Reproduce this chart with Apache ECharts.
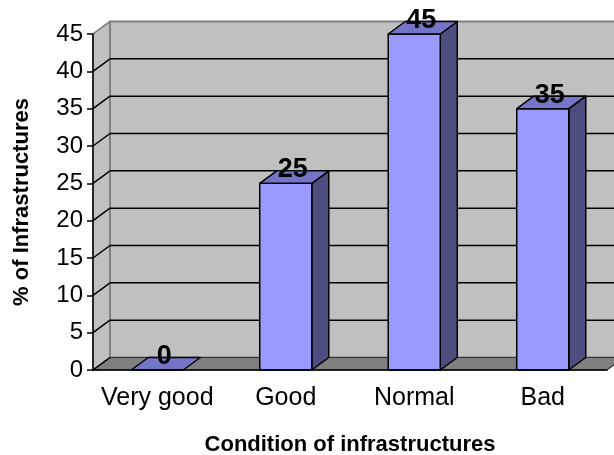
<!DOCTYPE html>
<html>
<head>
<meta charset="utf-8">
<script src="https://cdn.jsdelivr.net/npm/echarts@6/dist/echarts.min.js"></script>
<style>
  html, body { margin: 0; padding: 0; background: #ffffff; }
  #chart { width: 614px; height: 455px; }
</style>
</head>
<body>
<div id="chart"></div>
<script>
// Condition categories and share of infrastructures (%)
const categories = ['Very good', 'Good', 'Normal', 'Bad'];
const percentages = [0, 25, 45, 35];
const yTicks = [0, 5, 10, 15, 20, 25, 30, 35, 40, 45];

const FONT = '"Liberation Sans", Arial, sans-serif';
// pseudo-3D depth offset (pixels)
const DX = 17, DY = -12.5;
const Y_MAX = yTicks[yTicks.length - 1];

const chart = echarts.init(document.getElementById('chart'), null, { renderer: 'canvas' });

// Back wall, side wall, floor and gridlines of the 3D box
function renderWalls(params, api) {
  const cs = params.coordSys;
  const left = cs.x, right = cs.x + cs.width;
  const y0 = api.coord([0, 0])[1];
  const yT = api.coord([0, Y_MAX])[1];
  const children = [];
  children.push({
    type: 'polygon',
    shape: { points: [[left, yT], [left + DX, yT + DY], [left + DX, y0 + DY], [left, y0]] },
    style: { fill: '#c0c0c0', stroke: '#808080', lineWidth: 1.5 }
  });
  children.push({
    type: 'rect',
    shape: { x: left + DX, y: yT + DY, width: right - left + 40, height: y0 - yT },
    style: { fill: '#c0c0c0', stroke: '#808080', lineWidth: 2 }
  });
  children.push({
    type: 'polygon',
    shape: { points: [[left, y0], [right, y0], [right + DX, y0 + DY], [left + DX, y0 + DY]] },
    style: { fill: '#808080', stroke: '#303030', lineWidth: 1.2 }
  });
  yTicks.forEach(function (v) {
    const y = api.coord([0, v])[1];
    const isTop = v === Y_MAX;
    if (!isTop && v !== 0) {
      children.push({
        type: 'line',
        shape: { x1: left + DX, y1: y + DY, x2: right + DX + 40, y2: y + DY },
        style: { stroke: '#000000', lineWidth: 1.5 }
      });
    }
    children.push({
      type: 'line',
      shape: { x1: left, y1: y, x2: left + DX, y2: y + DY },
      style: { stroke: isTop ? '#808080' : '#000000', lineWidth: 1.5 }
    });
  });
  return { type: 'group', children: children };
}

// Box-shaped bar with front, top and side faces plus value label
function renderBar(params, api) {
  const idx = api.value(0);
  const val = api.value(1);
  const base = api.coord([idx, 0]);
  const top = api.coord([idx, val]);
  const bw = api.size([1, 0])[0] * 0.405;
  const xl = base[0] - bw / 2, xr = base[0] + bw / 2;
  const yb = base[1], yt = top[1];
  const edge = { stroke: '#000000', lineWidth: 1.5, lineJoin: 'round' };
  const children = [];
  if (yb - yt > 0.5) {
    children.push({
      type: 'polygon',
      shape: { points: [[xr, yt], [xr + DX, yt + DY], [xr + DX, yb + DY], [xr, yb]] },
      style: Object.assign({ fill: '#4d4d80' }, edge)
    });
    children.push({
      type: 'rect',
      shape: { x: xl, y: yt, width: bw, height: yb - yt },
      style: Object.assign({ fill: '#9999ff' }, edge)
    });
  }
  children.push({
    type: 'polygon',
    shape: { points: [[xl, yt], [xr, yt], [xr + DX, yt + DY], [xl + DX, yt + DY]] },
    style: Object.assign({ fill: '#7575c8' }, edge)
  });
  children.push({
    type: 'text',
    style: {
      x: base[0] + 7, y: yt - 13.5,
      text: String(val),
      fill: '#000000',
      font: 'bold 27px ' + FONT,
      align: 'center', verticalAlign: 'middle'
    },
    z2: 10
  });
  return { type: 'group', children: children };
}

const option = {
  backgroundColor: '#ffffff',
  animation: false,
  grid: { left: 93, right: 7, top: 34, bottom: 85, containLabel: false, outerBoundsMode: 'none' },
  xAxis: {
    type: 'category',
    data: categories,
    z: 5,
    name: 'Condition of infrastructures',
    nameLocation: 'middle',
    nameGap: 64,
    nameTextStyle: { fontFamily: FONT, fontWeight: 'bold', fontSize: 22, color: '#000' },
    axisLine: { lineStyle: { color: '#000', width: 1.5 } },
    axisTick: { length: 7, lineStyle: { color: '#000', width: 1.5 } },
    axisLabel: { interval: 0, fontFamily: FONT, fontSize: 25, color: '#000', margin: 16 },
    splitLine: { show: false }
  },
  yAxis: {
    type: 'value',
    min: 0, max: Y_MAX, interval: 5,
    z: 5,
    name: '% of Infrastructures',
    nameLocation: 'middle',
    nameGap: 60,
    nameRotate: 90,
    nameTextStyle: { fontFamily: FONT, fontWeight: 'bold', fontSize: 22, color: '#000' },
    axisLine: { show: true, lineStyle: { color: '#000', width: 1.5 } },
    axisTick: { show: true, length: 6, lineStyle: { color: '#000', width: 1.5 } },
    axisLabel: { fontFamily: FONT, fontSize: 24, color: '#000', margin: 10 },
    splitLine: { show: false }
  },
  series: [
    {
      type: 'custom',
      name: 'walls',
      z: 1,
      silent: true,
      renderItem: renderWalls,
      data: [[0, 0]]
    },
    {
      type: 'custom',
      name: '% of Infrastructures',
      z: 3,
      renderItem: renderBar,
      encode: { x: 0, y: 1 },
      data: categories.map(function (c, i) { return [i, percentages[i]]; })
    }
  ]
};

chart.setOption(option);
</script>
</body>
</html>
